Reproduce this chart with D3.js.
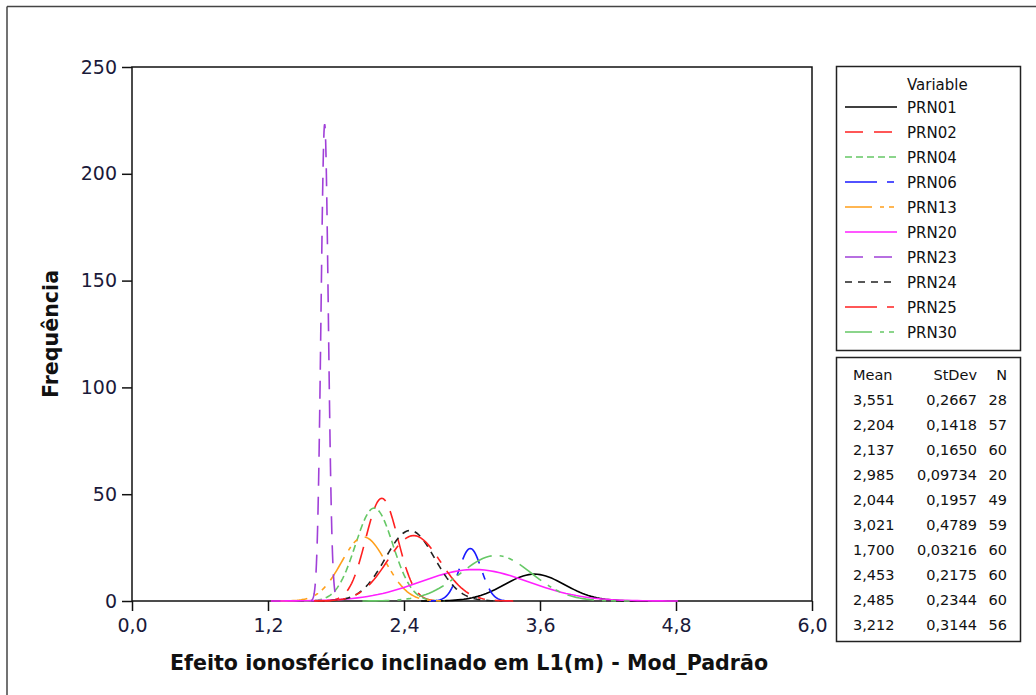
<!DOCTYPE html>
<html>
<head>
<meta charset="utf-8">
<script src="https://cdn.jsdelivr.net/npm/d3@7"></script>
<style>
  body { margin: 0; background: #fff; }
  text { font-family: "DejaVu Sans", Verdana, sans-serif; fill: #111; }
</style>
</head>
<body>
<div id="chart"></div>
<script>
var variables = ["PRN01", "PRN02", "PRN04", "PRN06", "PRN13", "PRN20", "PRN23", "PRN24", "PRN25", "PRN30"];
var means = [3.551, 2.204, 2.137, 2.985, 2.044, 3.021, 1.700, 2.453, 2.485, 3.212];
var stdevs = [0.2667, 0.1418, 0.1650, 0.09734, 0.1957, 0.4789, 0.03216, 0.2175, 0.2344, 0.3144];
var counts = [28, 57, 60, 20, 49, 59, 60, 60, 60, 56];
var meanLabels = ["3,551", "2,204", "2,137", "2,985", "2,044", "3,021", "1,700", "2,453", "2,485", "3,212"];
var stdevLabels = ["0,2667", "0,1418", "0,1650", "0,09734", "0,1957", "0,4789", "0,03216", "0,2175", "0,2344", "0,3144"];
var xTicks = [0, 1.2, 2.4, 3.6, 4.8, 6.0];
var yTicks = [0, 50, 100, 150, 200, 250];
var binWidth = 0.3;

var colors = ["#000000", "#ff2020", "#66c866", "#1a1aff", "#ff9f1a", "#ff20ff", "#a040d8", "#222222", "#ff2020", "#66c866"];
var dashes = ["none", "18,11", "7,4", "32,10,7,10", "27,8,4,5,5,8", "none", "18,11", "7,6", "32,10,7,10", "27,8,4,5,5,8"];

var width = 1036, height = 695;
var plot = {left: 132, right: 812, top: 67, bottom: 601};

var svg = d3.select("#chart")
  .append("svg")
    .attr("width", width)
    .attr("height", height);

// frame lines of the screenshot
svg.append("line").attr("x1", 7).attr("y1", 6.5).attr("x2", width).attr("y2", 6.5)
  .style("stroke", "#444").style("stroke-width", 1.5);
svg.append("line").attr("x1", 7).attr("y1", 6.5).attr("x2", 7).attr("y2", height)
  .style("stroke", "#444").style("stroke-width", 1.5);

var x = d3.scaleLinear().domain([0, 6]).range([plot.left, plot.right]);
var y = d3.scaleLinear().domain([0, 250]).range([plot.bottom, plot.top]);

// plot box
svg.append("rect")
  .attr("x", plot.left).attr("y", plot.top)
  .attr("width", plot.right - plot.left).attr("height", plot.bottom - plot.top)
  .style("fill", "none").style("stroke", "#111").style("stroke-width", 1.5);

var xAxis = svg.append("g")
  .attr("transform", "translate(0," + plot.bottom + ")")
  .call(d3.axisBottom(x).tickValues(xTicks).tickSize(10).tickPadding(8)
    .tickFormat(function(d) { return d3.format(".1f")(d).replace(".", ","); }));
var yAxis = svg.append("g")
  .attr("transform", "translate(" + plot.left + ",0)")
  .call(d3.axisLeft(y).tickValues(yTicks).tickSize(10).tickPadding(5));

[xAxis, yAxis].forEach(function(a) {
  a.select(".domain").remove();
  a.selectAll("line").style("stroke", "#111").style("stroke-width", 1.5);
  a.selectAll("text").style("font-size", "19px").style("fill", "#1a1a3a");
});

svg.append("text")
  .attr("x", (plot.left + plot.right) / 2 - 3)
  .attr("y", 670)
  .attr("text-anchor", "middle")
  .style("font-size", "20.6px")
  .style("font-weight", "bold")
  .text("Efeito ionosférico inclinado em L1(m) - Mod_Padrão");

svg.append("text")
  .attr("transform", "translate(58," + (plot.top + plot.bottom) / 2 + ") rotate(-90)")
  .attr("text-anchor", "middle")
  .style("font-size", "20.6px")
  .style("font-weight", "bold")
  .text("Frequência");

// fitted normal curves, scaled to frequency by N * bin width
var line = d3.line()
  .x(function(d) { return x(d[0]); })
  .y(function(d) { return y(d[1]); });

var curves = svg.append("g");
variables.forEach(function(v, i) {
  var m = means[i], s = stdevs[i], n = counts[i];
  var pts = d3.range(0, 81).map(function(k) {
    var xv = m - 3.75 * s + k * (7.5 * s / 80);
    var z = (xv - m) / s;
    return [xv, n * binWidth * Math.exp(-0.5 * z * z) / (s * Math.sqrt(2 * Math.PI))];
  });
  curves.append("path")
    .datum(pts)
    .attr("d", line)
    .style("fill", "none")
    .style("stroke", colors[i])
    .style("stroke-width", 1.6)
    .style("stroke-dasharray", dashes[i]);
});

// legend: variables
var leg = svg.append("g");
leg.append("rect")
  .attr("x", 836.5).attr("y", 66.5).attr("width", 184).attr("height", 284)
  .style("fill", "#fff").style("stroke", "#222").style("stroke-width", 1.5);
leg.append("text")
  .attr("x", 907).attr("y", 89.5)
  .style("font-size", "15px")
  .text("Variable");
variables.forEach(function(v, i) {
  var yy = 107 + i * 25;
  leg.append("line")
    .attr("x1", 845).attr("x2", 897).attr("y1", yy).attr("y2", yy)
    .style("stroke", colors[i]).style("stroke-width", 1.6)
    .style("stroke-dasharray", dashes[i]);
  leg.append("text")
    .attr("x", 907).attr("y", yy + 5.5)
    .style("font-size", "15px")
    .text(v);
});

// legend: statistics table
var tab = svg.append("g");
tab.append("rect")
  .attr("x", 836.5).attr("y", 357.5).attr("width", 184).attr("height", 284)
  .style("fill", "#fff").style("stroke", "#222").style("stroke-width", 1.5);
var cols = [{x: 853, anchor: "start", head: "Mean", vals: meanLabels},
            {x: 977, anchor: "end", head: "StDev", vals: stdevLabels},
            {x: 1007, anchor: "end", head: "N", vals: counts}];
cols.forEach(function(c) {
  tab.append("text")
    .attr("x", c.x).attr("y", 380)
    .attr("text-anchor", c.anchor)
    .style("font-size", "14.5px")
    .text(c.head);
  c.vals.forEach(function(v, i) {
    tab.append("text")
      .attr("x", c.x).attr("y", 404.5 + i * 25)
      .attr("text-anchor", c.anchor)
      .style("font-size", "14.5px")
      .text(v);
  });
});
</script>
</body>
</html>
